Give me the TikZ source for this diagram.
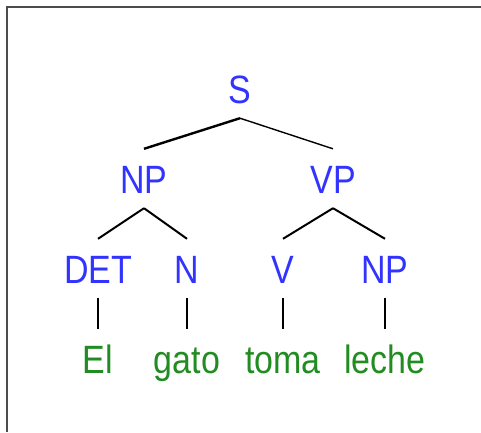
\documentclass[tikz,border=0pt]{standalone}
\usepackage{fontspec}
\newfontfamily\treefont[FakeStretch=0.86]{Liberation Sans}
\usepackage{tikz}
\usetikzlibrary{positioning}
\definecolor{catblue}{rgb}{0.2,0.2,1}
\definecolor{wordgreen}{rgb}{0.13,0.55,0.13}

\begin{document}
\begin{tikzpicture}[x=1pt, y=-1pt,
	every node/.style={font=\treefont\fontsize{39.5}{40}\selectfont, anchor=base, text height=29pt, text depth=0pt, inner xsep=0pt, inner ysep=15pt},
	cat/.style={text=catblue},
	word/.style={text=wordgreen},
	branch/.style={line width=2pt},
	leaf/.style={line width=1.5pt}]
	\useasboundingbox (0,0) rectangle (481,432);
	\draw[gray!60!black, line width=2pt] (7,432) -- (7,6.5) -- (481,6.5);
	
	\node[cat] (s) at (240,103) {S};
	\node[cat] (np) at (144,193) {NP};
	\node[cat] (vp) at (333,193) {VP};
	
	\node[cat] (det) at (98,283) {DET};
	\node[cat] (n) at (187,283) {N};
	\node[cat] (v) at (283,283) {V};
	\node[cat] (obj) at (385,283) {NP};
	
	\node[word] (el) at (98,373) {El};
	\node[word] (gato) at (187,373) {gato};
	\node[word] (toma) at (283,373) {toma};
	\node[word] (leche) at (385,373) {leche};
	
	\draw[branch, line width=2.4pt] (s.south) -- (np.north);
	\draw[branch, line width=1.4pt] (s.south) -- (vp.north);
	\draw[branch] (np.south) -- (det.north);
	\draw[branch] (np.south) -- (n.north);
	\draw[branch] (vp.south) -- (v.north);
	\draw[branch] (vp.south) -- (obj.north);
	
	\draw[leaf] (det.south) -- (el.north);
	\draw[leaf] (n.south) -- (gato.north);
	\draw[leaf] (v.south) -- (toma.north);
	\draw[leaf] (obj.south) -- (leche.north);
\end{tikzpicture}
\end{document}
